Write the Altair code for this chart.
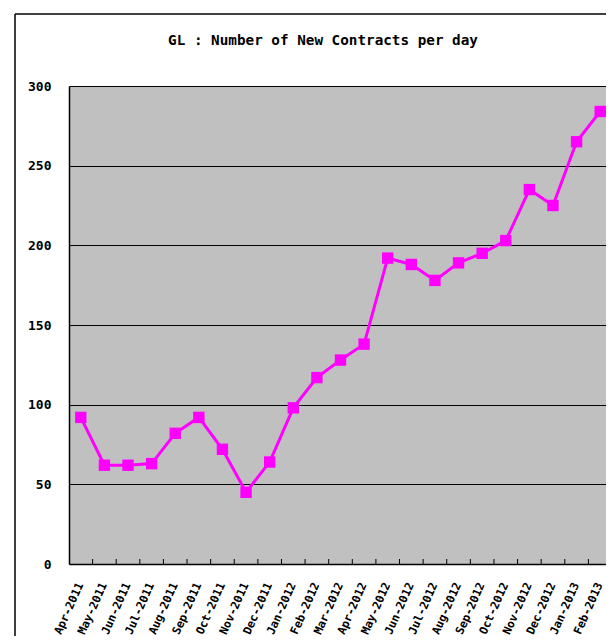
import altair as alt
import pandas as pd

months = ["Apr-2011", "May-2011", "Jun-2011", "Jul-2011", "Aug-2011", "Sep-2011",
          "Oct-2011", "Nov-2011", "Dec-2011", "Jan-2012", "Feb-2012", "Mar-2012",
          "Apr-2012", "May-2012", "Jun-2012", "Jul-2012", "Aug-2012", "Sep-2012",
          "Oct-2012", "Nov-2012", "Dec-2012", "Jan-2013", "Feb-2013"]
values = [92, 62, 62, 63, 82, 92, 72, 45, 64, 98, 117, 128,
          138, 192, 188, 178, 189, 195, 203, 235, 225, 265, 284]
y_ticks = [0, 50, 100, 150, 200, 250, 300]
title_text = "GL : Number of New Contracts per day"

df = pd.DataFrame({"month": months, "value": values})
tick_df = pd.DataFrame({"month": months[1:]})
frame_df = pd.DataFrame({"k": [0]})

MONO = "DejaVu Sans Mono"
W, H = 537, 478

xscale = alt.Scale(type="band", domain=months, range=[0, 543], paddingInner=0, paddingOuter=0)
yscale = alt.Scale(domain=[0, 300], nice=False)

x_axis = alt.Axis(
    title=None, ticks=False, domain=True, domainColor="black", domainWidth=1.5,
    labelAngle=294, labelAlign="right", labelBaseline="middle",
    labelFont=MONO, labelFontSize=11.5, labelFontWeight="bold", labelColor="black",
    labelPadding=19, labelOverlap=False, grid=False,
)
y_axis = alt.Axis(
    title=None, values=y_ticks, ticks=False, domain=True, domainColor="black", domainWidth=1.5,
    grid=True, gridColor="black", gridWidth=1, gridOpacity=1,
    labelFont=MONO, labelFontSize=13, labelFontWeight="bold", labelColor="black",
    labelPadding=18,
)

line = alt.Chart(df).mark_line(color="#FF00FF", strokeWidth=3).encode(
    x=alt.X("month:N", sort=months, scale=xscale, axis=x_axis),
    y=alt.Y("value:Q", scale=yscale, axis=y_axis),
)
points = alt.Chart(df).mark_point(shape="square", filled=True, size=130,
                                   color="#FF00FF", opacity=1).encode(
    x=alt.X("month:N", sort=months),
    y=alt.Y("value:Q"),
)
ticks = alt.Chart(tick_df).mark_rule(color="black", strokeWidth=1).encode(
    x=alt.X("month:N", sort=months, bandPosition=0),
    y=alt.value(H - 5), y2=alt.value(H),
)
frame_left = alt.Chart(frame_df).mark_rule(color="black", strokeWidth=1.5).encode(
    x=alt.value(-54), y=alt.value(-72), y2=alt.value(H + 120),
)
frame_top = alt.Chart(frame_df).mark_rule(color="black", strokeWidth=1.5).encode(
    x=alt.value(-54), x2=alt.value(W + 20), y=alt.value(-72),
)
title = alt.Chart(frame_df).mark_text(
    text=title_text, font=MONO, fontSize=14.3, fontWeight="bold", color="black",
    align="center", baseline="middle",
).encode(x=alt.value(254), y=alt.value(-45))

chart = alt.layer(line, ticks, points, frame_left, frame_top, title).properties(
    width=W, height=H,
    background="white",
    autosize=alt.AutoSizeParams(type="none"),
    padding={"left": 61, "top": 78, "right": 0, "bottom": 72},
).configure_view(
    fill="#C0C0C0", stroke="transparent", strokeWidth=0
)

chart.save("out.html", embed_options={"renderer": "svg", "actions": False})
